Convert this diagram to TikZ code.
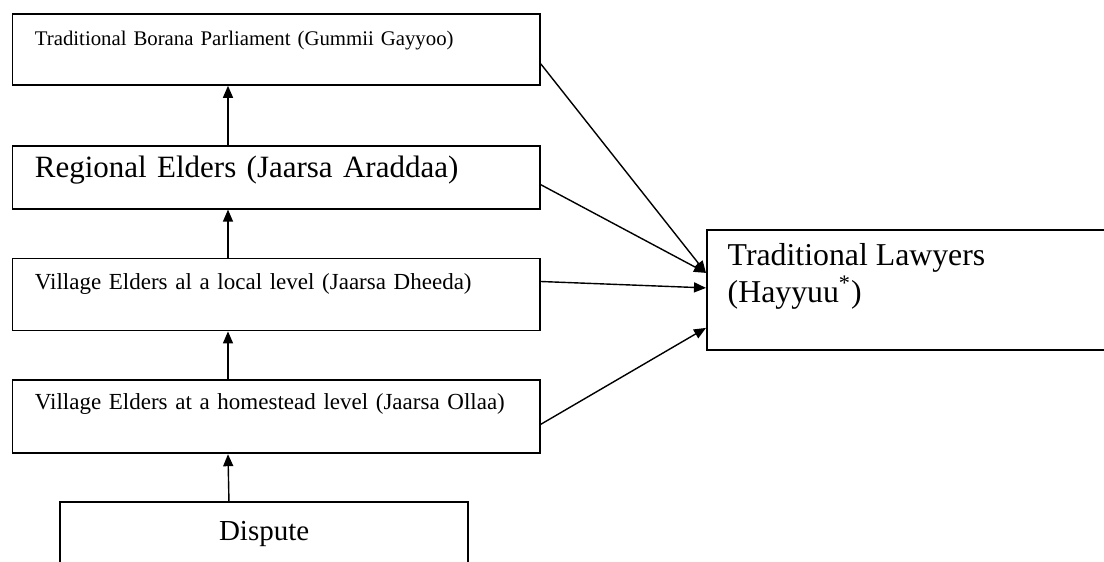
\documentclass[tikz,border=0pt]{standalone}
\usepackage{fontspec}
\setmainfont{Liberation Serif}
\usetikzlibrary{arrows.meta,positioning}

\tikzset{
  tier/.style={draw, line width=0.9pt, minimum width=263.75pt, inner xsep=11.25pt,
    inner ysep=0pt, text width=241.25pt, align=left, font=\fontsize{11.5}{13.8}\selectfont},
  frame/.style={draw, line width=0.9pt, inner ysep=0pt}
}

\begin{document}
\begin{tikzpicture}[x=0.5pt, y=-0.5pt, >={Triangle[length=6pt,width=5pt]}, line width=0.7pt]
\useasboundingbox (0,0) rectangle (1104,562);
% ladder of elders
\node [tier, anchor=north west, text height=16pt, text depth=19.5pt, font=\fontsize{10.4}{12.5}\selectfont] (parl) at (11.5,13) {Traditional Borana Parliament (Gummii Gayyoo)};
\node [tier, text height=16pt, text depth=15.5pt, font=\fontsize{15.5}{18}\selectfont] (region) [below=29.5pt of parl] {Regional Elders (Jaarsa Araddaa)};
\node [tier, text height=15.5pt, text depth=20.5pt] (village) [below=24pt of region] {Village Elders al a local level (Jaarsa Dheeda)};
\node [tier, text height=14.5pt, text depth=22pt] (homestead) [below=24pt of village] {Village Elders at a homestead level (Jaarsa Ollaa)};
\node [frame, minimum width=204pt, text height=19pt, text depth=34pt, font=\fontsize{14.5}{17}\selectfont] (dispute) [below=23.5pt of homestead, xshift=-6pt] {Dispute};
% lawyers
\node [frame, anchor=north west, minimum width=240pt, minimum height=60pt] (lawyers) at (706,229) {};
\node [anchor=north west, inner sep=0pt, align=left, font=\fontsize{15.9}{18.5}\selectfont] (lawtext) at (727,243) {Traditional Lawyers\\(Hayyuu\textsuperscript{*})};
% links up the ladder
\path[->]
([xshift=-17.6pt]dispute.north) edge ([xshift=108.25pt]homestead.south west)
([xshift=108.25pt]homestead.north west) edge ([xshift=108.25pt]village.south west)
([xshift=108.25pt]village.north west) edge ([xshift=108.25pt]region.south west)
([xshift=108.25pt]region.north west) edge ([xshift=108.25pt]parl.south west)
;
% links to the lawyers
\path[->]
([yshift=-7.25pt]parl.east) edge ([yshift=8.5pt]lawyers.west)
([yshift=-3.75pt]region.east) edge ([yshift=8.5pt]lawyers.west)
([yshift=6.5pt]village.east) edge ([yshift=1pt]lawyers.west)
([yshift=-3.75pt]homestead.east) edge ([yshift=-19pt]lawyers.west)
;
\end{tikzpicture}
\end{document}
